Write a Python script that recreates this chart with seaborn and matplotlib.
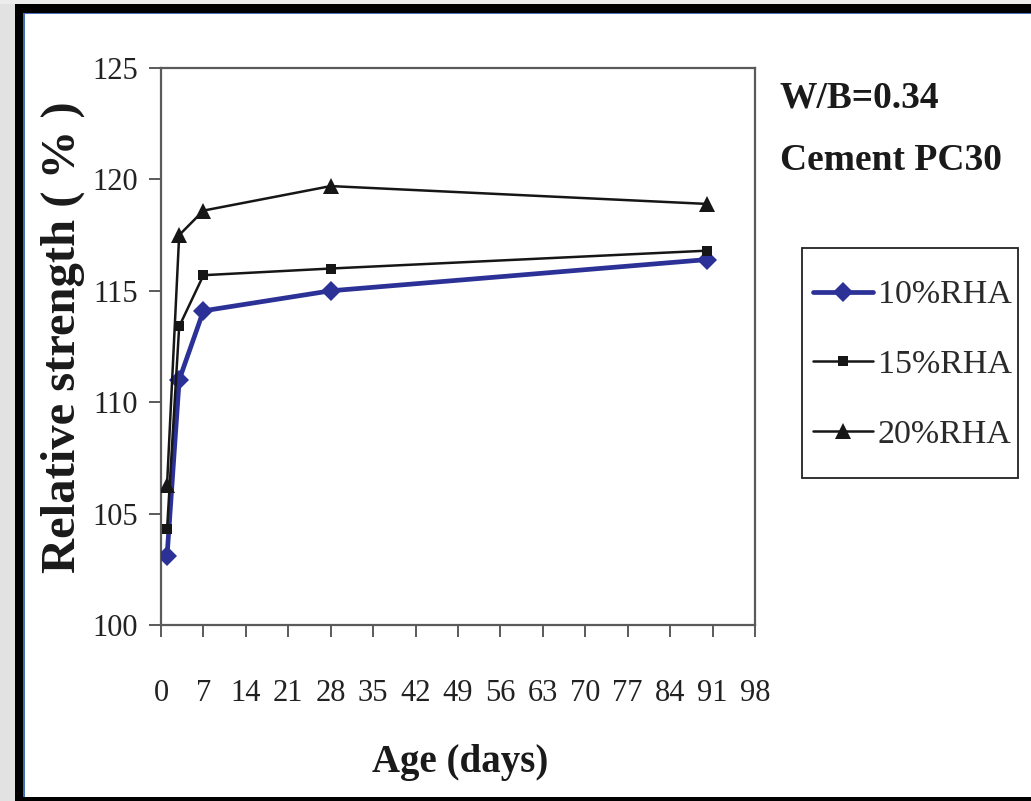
import matplotlib
matplotlib.use("Agg")
import matplotlib.pyplot as plt
from matplotlib.patches import Rectangle
import seaborn as sns
import pandas as pd

# Curing age (days) and relative compressive strength (%) per RHA replacement level
days = [1, 3, 7, 28, 90]
rha10 = [103.1, 111.0, 114.1, 115.0, 116.4]
rha15 = [104.3, 113.4, 115.7, 116.0, 116.8]
rha20 = [106.3, 117.5, 118.6, 119.7, 118.9]
series_names = ["10%RHA", "15%RHA", "20%RHA"]
x_ticks = list(range(0, 99, 7))
y_ticks = [100, 105, 110, 115, 120, 125]

sns.set_theme(style="white")
plt.rcParams["font.family"] = ["Liberation Serif", "DejaVu Serif"]
plt.rcParams["text.color"] = "#1a1a1a"

fig = plt.figure(figsize=(10.31, 8.01), dpi=100)
fig.patch.set_facecolor("white")

# page frame around the figure
W, H = 1031, 801
def px_rect(x0, y0, x1, y1, face, edge="none", lw=0, z=-5):
    r = Rectangle((x0 / W, 1 - y1 / H), (x1 - x0) / W, (y1 - y0) / H,
                  transform=fig.transFigure, facecolor=face,
                  edgecolor=edge, linewidth=lw, zorder=z)
    fig.add_artist(r)
    return r

px_rect(0, 0, 15, H, "#e2e2e2")
px_rect(0, 0, W, 4, "#ececec")
px_rect(15, 4, W, 13, "black")
px_rect(15, 4, 23, H, "black")
px_rect(15, 797, W, H, "black")
px_rect(23, 13, 25, 797, "#3f6fb8")
px_rect(23, 13, W, 14, "#4a72b8")

# legend box outline (drawn beneath the axes layer)
px_rect(802, 248, 1018, 478, "white", edge="#222222", lw=1.3, z=-1)

ax = fig.add_axes([161 / W, 1 - 625 / H, (755 - 161) / W, (625 - 68) / H])
ax.set_facecolor("white")

df = pd.DataFrame({"Age": days * 3,
                   "Strength": rha10 + rha15 + rha20,
                   "Mix": [n for n in series_names for _ in days]})

styles = {
    "10%RHA": dict(color="#2b3196", marker="D", markersize=10.5, linewidth=3.4),
    "15%RHA": dict(color="#161616", marker="s", markersize=7, linewidth=1.8),
    "20%RHA": dict(color="#161616", marker="^", markersize=11, linewidth=1.8),
}
for name in series_names:
    st = styles[name]
    sns.lineplot(data=df[df["Mix"] == name], x="Age", y="Strength", ax=ax,
                 color=st["color"], marker=st["marker"], markersize=st["markersize"],
                 linewidth=st["linewidth"], markeredgecolor=st["color"],
                 markeredgewidth=0, label=name, zorder=3)

ax.set_xlim(0, 98)
ax.set_ylim(100, 125)
ax.set_xticks(x_ticks)
ax.set_yticks(y_ticks)
ax.set_xticklabels([str(t) for t in x_ticks])
ax.set_yticklabels([str(t) for t in y_ticks])

for sp in ax.spines.values():
    sp.set_color("#5a5a5a")
    sp.set_linewidth(1.6)
    sp.set_visible(True)

ax.tick_params(axis="both", which="major", direction="out", length=8.6,
               width=1.4, color="#5a5a5a", labelsize=22, labelcolor="#222222",
               bottom=True, left=True, top=False, right=False)
ax.tick_params(axis="x", pad=30)
ax.tick_params(axis="y", pad=8)
ax.grid(False)

ax.set_xlabel("Age (days)", fontsize=28, fontweight="bold", color="#1a1a1a")
ax.set_ylabel("Relative strength ( % )", fontsize=35, fontweight="bold", color="#1a1a1a")
ax.xaxis.set_label_coords(0.503, -0.246)
ax.yaxis.set_label_coords(-0.165, 0.517)
ax.xaxis.label.set_va("center")
ax.yaxis.label.set_va("center")

fig.text(780 / W, 1 - 98 / H, "W/B=0.34", fontsize=27, fontweight="bold",
         ha="left", va="center", color="#1a1a1a")
fig.text(780 / W, 1 - 160 / H, "Cement PC30", fontsize=27, fontweight="bold",
         ha="left", va="center", color="#1a1a1a")

leg = ax.legend(loc="center left", bbox_to_anchor=(813 / W, 1 - 365 / H),
                bbox_transform=fig.transFigure, borderaxespad=0,
                fontsize=24.5, frameon=False, handlelength=1.76, handletextpad=0.15,
                labelspacing=1.15, borderpad=0)
for t in leg.get_texts():
    t.set_color("#2a2a2a")

fig.savefig("out.png", dpi=100)
